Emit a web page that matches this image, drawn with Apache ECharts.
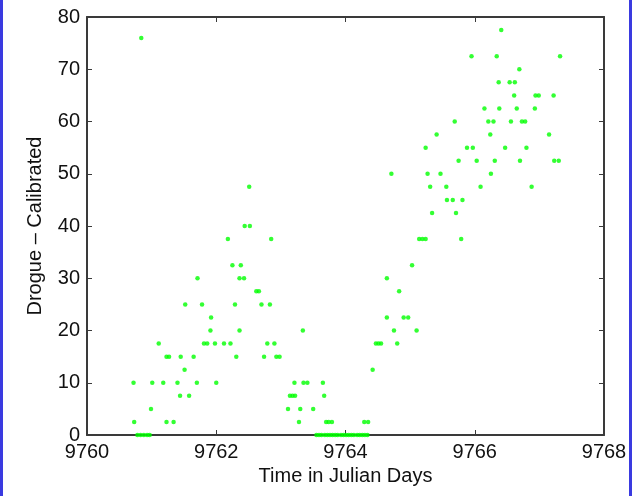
<!DOCTYPE html>
<html>
<head>
<meta charset="utf-8">
<script src="https://cdn.jsdelivr.net/npm/echarts@6/dist/echarts.min.js"></script>
<style>
  html, body { margin: 0; padding: 0; background: #ffffff; }
  #frame { position: relative; width: 632px; height: 496px; overflow: hidden; background: #ffffff; }
  #chart { width: 632px; height: 496px; }
  .edge { position: absolute; top: 0; width: 3px; height: 496px; background: #3a3ae0; }
</style>
</head>
<body>
<div id="frame">
  <div id="chart"></div>
  <div class="edge" style="left:0"></div>
  <div class="edge" style="right:0"></div>
</div>
<script>
// Axis ranges and tick steps
const dayRange = [9760, 9768];
const dayStep = 2;
const drogueRange = [0, 80];
const drogueStep = 10;

const xTitle = 'Time in Julian Days';
const yTitle = 'Drogue \u2013 Calibrated';

// Drogue samples: time (Julian day) and calibrated value, paired by index
const julianDay = [
  // 0
  9760.78, 9760.83, 9760.88, 9760.93, 9760.97,
  9763.55, 9763.59, 9763.63, 9763.68, 9763.72, 9763.76, 9763.80, 9763.84, 9763.88, 9763.93,
  9763.97, 9764.01, 9764.05, 9764.09, 9764.13, 9764.18, 9764.22, 9764.26, 9764.30, 9764.34,
  // 2.5
  9760.73, 9761.23, 9761.34, 9763.28, 9763.70, 9763.74, 9763.79, 9764.29, 9764.35,
  // 5
  9760.99, 9763.11, 9763.30, 9763.50,
  // 7.5
  9761.44, 9761.58, 9763.14, 9763.18, 9763.22, 9763.67,
  // 10
  9760.72, 9761.01, 9761.18, 9761.40, 9761.70, 9762.00, 9763.21, 9763.35, 9763.41, 9763.65,
  // 12.5
  9761.51, 9764.42,
  // 15
  9761.23, 9761.27, 9761.45, 9761.65, 9762.31, 9762.74, 9762.93, 9762.98,
  // 17.5
  9761.11, 9761.81, 9761.86, 9761.98, 9762.12, 9762.22, 9762.79, 9762.90, 9764.47, 9764.51, 9764.55, 9764.80,
  // 20
  9761.91, 9762.36, 9763.34, 9764.75, 9765.10,
  // 22.5
  9761.92, 9764.64, 9764.90, 9764.97,
  // 25
  9761.52, 9761.78, 9762.29, 9762.70, 9762.83,
  // 27.5
  9762.62, 9762.66, 9764.83,
  // 30
  9761.71, 9762.36, 9762.43, 9764.64,
  // 32.5
  9762.25, 9762.38, 9765.03,
  // 37.5
  9762.18, 9762.85, 9765.14, 9765.19, 9765.24, 9765.79,
  // 40
  9762.44, 9762.52,
  // 42.5
  9765.34, 9765.71,
  // 45
  9765.57, 9765.66, 9765.81,
  // 47.5
  9762.51, 9765.31, 9765.56, 9766.09, 9766.88,
  // 50
  9764.71, 9765.27, 9765.47, 9766.25,
  // 52.5
  9765.75, 9766.03, 9766.31, 9766.70, 9767.23, 9767.30,
  // 55
  9765.24, 9765.88, 9765.97, 9766.47, 9766.80,
  // 57.5
  9765.41, 9766.24, 9767.15,
  // 60
  9765.69, 9766.21, 9766.29, 9766.56, 9766.73, 9766.78,
  // 62.5
  9766.15, 9766.38, 9766.65, 9766.93,
  // 65
  9766.61, 9766.94, 9766.99, 9767.22,
  // 67.5
  9766.37, 9766.54, 9766.62,
  // 70
  9766.69,
  // 72.5
  9765.95, 9766.34, 9767.32,
  // 76
  9760.84,
  // 77.5
  9766.41
];

const drogueValue = [
  0, 0, 0, 0, 0,
  0, 0, 0, 0, 0, 0, 0, 0, 0, 0,
  0, 0, 0, 0, 0, 0, 0, 0, 0, 0,
  2.5, 2.5, 2.5, 2.5, 2.5, 2.5, 2.5, 2.5, 2.5,
  5, 5, 5, 5,
  7.5, 7.5, 7.5, 7.5, 7.5, 7.5,
  10, 10, 10, 10, 10, 10, 10, 10, 10, 10,
  12.5, 12.5,
  15, 15, 15, 15, 15, 15, 15, 15,
  17.5, 17.5, 17.5, 17.5, 17.5, 17.5, 17.5, 17.5, 17.5, 17.5, 17.5, 17.5,
  20, 20, 20, 20, 20,
  22.5, 22.5, 22.5, 22.5,
  25, 25, 25, 25, 25,
  27.5, 27.5, 27.5,
  30, 30, 30, 30,
  32.5, 32.5, 32.5,
  37.5, 37.5, 37.5, 37.5, 37.5, 37.5,
  40, 40,
  42.5, 42.5,
  45, 45, 45,
  47.5, 47.5, 47.5, 47.5, 47.5,
  50, 50, 50, 50,
  52.5, 52.5, 52.5, 52.5, 52.5, 52.5,
  55, 55, 55, 55, 55,
  57.5, 57.5, 57.5,
  60, 60, 60, 60, 60, 60,
  62.5, 62.5, 62.5, 62.5,
  65, 65, 65, 65,
  67.5, 67.5, 67.5,
  70,
  72.5, 72.5, 72.5,
  76,
  77.5
];

const points = julianDay.map((d, i) => [d, drogueValue[i]]);

const frameColor = '#3a3a3a';
const labelFont = { fontFamily: 'Liberation Sans, Arial, sans-serif', fontSize: 20, color: '#111111' };

function boxAxis(position, isX, primary) {
  const range = isX ? dayRange : drogueRange;
  const step = isX ? dayStep : drogueStep;
  const axis = {
    type: 'value',
    position: position,
    min: range[0],
    max: range[1],
    interval: step,
    axisLine: { show: true, onZero: false, lineStyle: { color: frameColor, width: 2 } },
    axisTick: { show: true, inside: true, length: 5, lineStyle: { color: frameColor, width: 1 } },
    axisLabel: primary
      ? Object.assign({ show: true, margin: 7, formatter: (v) => String(v) }, labelFont)
      : { show: false },
    splitLine: { show: false }
  };
  if (primary) {
    axis.name = isX ? xTitle : yTitle;
    axis.nameLocation = 'middle';
    axis.nameGap = isX ? 31 : 42;
    axis.nameTextStyle = Object.assign({}, labelFont);
  }
  return axis;
}

const chart = echarts.init(document.getElementById('chart'), null, { renderer: 'canvas' });
chart.setOption({
  animation: false,
  backgroundColor: '#ffffff',
  grid: { left: 87, right: 28, top: 17, bottom: 61, containLabel: false },
  xAxis: [boxAxis('bottom', true, true), boxAxis('top', true, false)],
  yAxis: [boxAxis('left', false, true), boxAxis('right', false, false)],
  series: [{
    type: 'scatter',
    xAxisIndex: 0,
    yAxisIndex: 0,
    data: points,
    symbol: 'circle',
    symbolSize: 4.5,
    itemStyle: { color: '#00ff00' },
    silent: true
  }]
});
</script>
</body>
</html>
